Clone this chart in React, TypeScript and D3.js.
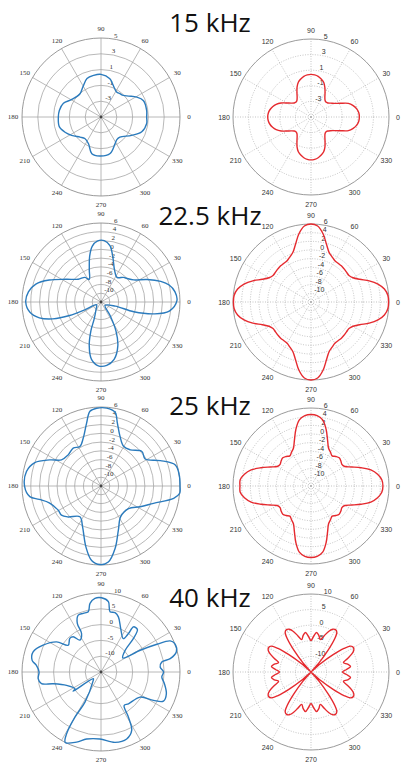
import React from 'react';
import * as d3 from 'd3';

type Pt = [number, number];

// ---- chart text ----
const titles = ['15 kHz', '22.5 kHz', '25 kHz', '40 kHz'];
const angleTicks = [0, 30, 60, 90, 120, 150, 180, 210, 240, 270, 300, 330];

const domain15: [number, number] = [-5, 5];
const domain22: [number, number] = [-12, 6];
const domain25: [number, number] = [-12, 6];
const domain40: [number, number] = [-15, 10];

const rings15 = [-3, -1, 1, 3, 5];
const rings22 = [-10, -8, -6, -4, -2, 0, 2, 4, 6];
const rings25 = [-10, -8, -6, -4, -2, 0, 2, 4, 6];
const rings40 = [-10, -5, 0, 5, 10];

// ---- measured patterns (blue), [angle deg, level dB] ----
const measured15: Pt[] = [
  [0, 0.78], [8, 0.84], [21, 0.76], [29, 0.18], [37, -0.6], [44, -1.07], [51, -1.2], [58, -1.27],
  [69, -0.7], [77, -0.02], [90, 0.4], [100, 0.35], [110, 0.18], [121, -0.55], [132, -1.03],
  [149, -0.69], [160, 0.06], [171, 0.34], [180, 0.4], [193, 0.42], [203, -0.06], [212, -0.62],
  [224, -1.33], [233, -1.6], [245, -1.26], [256, -0.21], [268, -0.06], [284, -0.23], [298, -1.19],
  [305, -1.5], [313, -1.5], [329, -0.48], [340, 0.49], [352, 0.84],
];

const measured22: Pt[] = [
  [1, 5.3], [8, 5.0], [14, 4.0], [19, 2.4], [26, -0.3], [34, -3.0], [42, -4.0], [47.5, -4.4],
  [57, -5.3], [67, -4.1], [75.5, -1.3], [81, 1.0], [87, 2.0], [93.5, 1.9], [99, 0.85], [104, -1.3],
  [110, -4.2], [117.6, -6.2], [123, -5.3], [135, -4.65], [147, -2.5], [157, 0.8], [164.6, 3.4],
  [172, 4.7], [180, 5.15], [188, 4.4], [194.4, 2.5], [199.3, -0.35], [203.3, -4.2], [205.6, -7.9],
  [211.6, -10.8], [237, -9.9], [248, -7.9], [250.6, -5.1], [255, -1.65], [260.6, 1.25],
  [267.6, 2.55], [275.2, 2.5], [282.9, 1.4], [291, -1.3], [297.4, -4.6], [304, -8.3], [320, -10.8],
  [344, -8.6], [343.4, -4.2], [347.4, 0.4], [352.4, 3.7],
];

const measured25: Pt[] = [
  [0, 6.0], [8, 6.0], [15.8, 5.6], [23.2, 2.7], [31.5, -0.2], [40.2, 0.2], [51.1, -1.4], [60.4, -1.6],
  [69, 0.1], [75.4, 2.8], [79.2, 5.1], [85.8, 5.8], [93.2, 5.75], [98.4, 5.2], [102.9, 2.7],
  [110.3, -0.35], [118.1, -1.8], [126.3, -1.3], [136.5, -1.7], [146.5, -1.2], [153, 1.1], [160.5, 4.0],
  [169, 5.3], [180.5, 5.4], [188.5, 4.4], [192.2, 2.4], [198, 0.4], [209.4, -0.8], [216.4, -0.8],
  [223.2, -1.7], [235.6, -3.5], [245.7, -1.8], [256.1, 2.3], [262.8, 5.1], [269.3, 5.9], [275.5, 5.4],
  [282.7, 2.6], [291.5, -1.2], [302.7, -3.7], [320.7, -3.9], [332, -1.9], [341.7, 0.6], [350.3, 4.8],
  [354.7, 6.0],
];

const measured40: Pt[] = [
  [0, 4.8], [4.8, 3.8], [9.4, 4.5], [10.9, 7.3], [15, 9.7], [21, 10], [24.2, 9.0], [26.4, 4.75],
  [29, -0.8], [32.9, -6.8], [42, -4.7], [45.9, -0.3], [49.4, 2.7], [54.3, 2.6], [54.5, -0.05],
  [56.2, -2.3], [65.6, 0.1], [72.5, 3.3], [76.7, 4.3], [81.5, 4.3], [84, 7.4], [89.5, 8.5], [94.7, 8.4],
  [99.1, 7.0], [101.9, 4.5], [106.8, 4.4], [111.8, 4.4], [116, 2.1], [116.8, -1.35], [123.5, -2.9],
  [128.3, -0.8], [132.9, -0.5], [140.8, -1.6], [145.9, 2.0], [155.2, 5.2], [163.5, 7.4], [170.4, 7.1],
  [174, 5.6], [180, 4.6], [186, 5.0], [191, 4.2], [193.8, 0.6], [201.2, -3.3], [212.7, -5.2],
  [214.5, -4.3], [221, -11.8], [230, -11], [242, -4.2], [240, 1.5], [240.9, 7.4], [243.1, 10],
  [250.8, 8.5], [257.9, 6.7], [269, 6.2], [281.3, 7.7], [291, 7.7], [297.7, 5.9], [301.3, 1.7],
  [304.6, -2.1], [310.8, -1.7], [327.3, -0.3], [331.6, 3.9], [335, 6.8], [341.6, 6.8], [349.6, 5.4],
  [355.3, 4.3],
];

// ---- simulated patterns (red), one value every 5 degrees from 0 ----
const simulated15 = [
  1.2, 1.15, 0.95, 0.6, 0.1, -0.85, -1.5, -1.9, -2.2, -2.3, -2.2, -1.9, -1.4, -0.8, -0.25, 0.05, 0.3, 0.43,
  0.47, 0.43, 0.3, 0.05, -0.25, -0.77, -1.4, -1.9, -2.2, -2.3, -2.2, -1.9, -1.4, -0.77, -0.25, 0.1, 0.35, 0.5,
  0.55, 0.5, 0.35, 0.1, -0.25, -0.77, -1.4, -1.9, -2.2, -2.3, -2.2, -1.9, -1.4, -0.77, -0.25, 0.05, 0.3, 0.45,
  0.5, 0.45, 0.3, 0.05, -0.25, -0.77, -1.4, -1.9, -2.2, -2.3, -2.2, -1.94, -1.5, -0.85, 0.1, 0.6, 0.95, 1.15,
];

const simulated22 = [
  5.9, 5.8, 5.2, 4.0, 2.3, 0.4, -0.8, -1.3, -1.3, -1.2, -1.1, -1.1, -1.0, -0.5, 0.2, 1.8, 4.0, 5.6,
  6.0, 5.6, 4.0, 1.8, 0.2, -0.5, -1.0, -1.1, -1.1, -1.2, -1.3, -1.3, -0.8, 0.4, 2.3, 4.0, 5.2, 5.8,
  5.9, 5.8, 5.2, 4.0, 2.3, 0.4, -0.8, -1.3, -1.3, -1.2, -1.1, -1.1, -1.0, -0.5, 0.2, 1.8, 4.0, 5.6,
  6.0, 5.6, 4.0, 1.8, 0.2, -0.5, -1.0, -1.1, -1.1, -1.2, -1.3, -1.3, -0.8, 0.4, 2.3, 4.0, 5.2, 5.8,
];

const simulated25 = [
  4.6, 4.4, 3.6, 2.3, 0.3, -1.6, -3.0, -3.3, -3.0, -2.8, -3.1, -3.5, -3.0, -2.4, -0.8, 1.5, 3.5, 4.3,
  4.5, 4.3, 3.5, 1.5, -0.8, -2.4, -3.0, -3.5, -3.1, -2.8, -3.0, -3.3, -3.0, -1.6, 0.3, 2.3, 3.6, 4.4,
  4.4, 4.4, 3.6, 2.3, 0.3, -1.6, -3.0, -3.3, -3.0, -2.8, -3.1, -3.5, -3.0, -2.4, -0.8, 1.5, 3.5, 4.3,
  4.5, 4.3, 3.5, 1.5, -0.8, -2.4, -3.0, -3.5, -3.1, -2.8, -3.0, -3.3, -3.0, -1.6, 0.3, 2.3, 3.6, 4.4,
];

const simulated40: Pt[] = [
  [0, -4.9], [4, -3.6], [8, -2.2], [12, -3.0], [16, -4.2], [20, -2.6], [24, -0.6], [27, 0.4], [30, 0.7],
  [33, 0.2], [35.5, -2.0], [38, -6], [41, -11], [45, -15], [49, -11], [52, -6], [54.5, -2.0], [57, 0.2],
  [60, 0.7], [63, 0.4], [66, -0.6], [70, -2.6], [74, -4.2], [78, -3.0], [82, -2.2], [86, -3.6],
  [90, -4.9], [94, -3.6], [98, -2.2], [102, -3.0], [106, -4.2], [110, -2.6], [114, -0.6], [117, 0.4], [120, 0.7],
  [123, 0.2], [125.5, -2.0], [128, -6], [131, -11], [135, -15], [139, -11], [142, -6], [144.5, -2.0], [147, 0.2],
  [150, 0.7], [153, 0.4], [156, -0.6], [160, -2.6], [164, -4.2], [168, -3.0], [172, -2.2], [176, -3.6],
  [180, -4.9], [184, -3.6], [188, -2.2], [192, -3.0], [196, -4.2], [200, -2.6], [204, -0.6], [207, 0.4], [210, 0.7],
  [213, 0.2], [215.5, -2.0], [218, -6], [221, -11], [225, -15], [229, -11], [232, -6], [234.5, -2.0], [237, 0.2],
  [240, 0.7], [243, 0.4], [246, -0.6], [250, -2.6], [254, -4.2], [258, -3.0], [262, -2.2], [266, -3.6],
  [270, -4.9], [274, -3.6], [278, -2.2], [282, -3.0], [286, -4.2], [290, -2.6], [294, -0.6], [297, 0.4], [300, 0.7],
  [303, 0.2], [305.5, -2.0], [308, -6], [311, -11], [315, -15], [319, -11], [322, -6], [324.5, -2.0], [327, 0.2],
  [330, 0.7], [333, 0.4], [336, -0.6], [340, -2.6], [344, -4.2], [348, -3.0], [352, -2.2], [356, -3.6],
];

const BLUE = '#2b7bbd';
const RED = '#e52a2f';

const evenly = (vals: number[]): Pt[] => vals.map((v, i) => [(i * 360) / vals.length, v]);

const rowsY = [117, 302, 486, 672];
const titleY = [32, 225, 415, 607];

const panels = [
  { row: 0, domain: domain15, rings: rings15, left: measured15, right: evenly(simulated15) },
  { row: 1, domain: domain22, rings: rings22, left: measured22, right: evenly(simulated22) },
  { row: 2, domain: domain25, rings: rings25, left: measured25, right: evenly(simulated25) },
  { row: 3, domain: domain40, rings: rings40, left: measured40, right: simulated40 },
];

const rad = (deg: number) => (deg * Math.PI) / 180;

function Polar(props: {
  cx: number; cy: number; R: number; domain: [number, number]; rings: number[];
  data: Pt[]; color: string; measured: boolean;
}) {
  const { cx, cy, R, domain, rings, data, color, measured } = props;
  const r = d3.scaleLinear().domain(domain).range([0, R]).clamp(true);
  const line = d3.lineRadial<Pt>()
    .angle(d => rad(90 - d[0]))
    .radius(d => r(d[1]))
    .curve(d3.curveCatmullRomClosed.alpha(0.5));

  const gridColor = measured ? '#a6a6a6' : '#b4b4b4';
  const dash = measured ? undefined : '1 1.5';
  const font = measured
    ? '"Liberation Serif", "DejaVu Serif", serif'
    : '"Liberation Sans", Arial, sans-serif';

  return (
    <g transform={`translate(${cx},${cy})`}>
      {rings.slice(0, -1).map(v => (
        <circle key={'c' + v} r={r(v)} fill="none" stroke={gridColor} strokeWidth={0.8} strokeDasharray={dash} />
      ))}
      {angleTicks.map(a => (
        <line key={'s' + a} x1={0} y1={0} x2={R * Math.cos(rad(a))} y2={-R * Math.sin(rad(a))}
          stroke={gridColor} strokeWidth={0.8} strokeDasharray={dash} />
      ))}
      <circle r={R} fill="none" stroke="#8e8e8e" strokeWidth={0.9} />
      {angleTicks.map(a => (
        <text key={'t' + a} x={(R + 9) * Math.cos(rad(a))} y={-(R + 9) * Math.sin(rad(a))}
          fontFamily={font} fontSize={7} fill="#333" textAnchor="middle" dominantBaseline="central">
          {a}
        </text>
      ))}
      {rings.map(v => (
        <text key={'r' + v} x={r(v) * Math.cos(rad(82)) + 2} y={-r(v) * Math.sin(rad(82)) - 1}
          fontFamily={font} fontSize={7} fill="#333" textAnchor="start">
          {v}
        </text>
      ))}
      {measured && <circle r={1.4} fill="#444" />}
      <path d={line(data) || ''} fill="none" stroke={color} strokeWidth={1.4} strokeLinejoin="round" />
    </g>
  );
}

export default function App() {
  return (
    <svg width={415} height={771} style={{ position: 'absolute', left: 0, top: 0, background: '#fff' }}>
      <rect width={415} height={771} fill="#fff" />
      {panels.map(p => (
        <g key={p.row}>
          <Polar cx={101} cy={rowsY[p.row]} R={79} domain={p.domain} rings={p.rings}
            data={p.left} color={BLUE} measured={true} />
          <Polar cx={311} cy={rowsY[p.row]} R={78} domain={p.domain} rings={p.rings}
            data={p.right} color={RED} measured={false} />
          <text x={210} y={titleY[p.row]} textAnchor="middle" fontFamily='"Open Sans", "Noto Sans", sans-serif'
            fontSize={26} fill="#111">
            {titles[p.row]}
          </text>
        </g>
      ))}
    </svg>
  );
}
